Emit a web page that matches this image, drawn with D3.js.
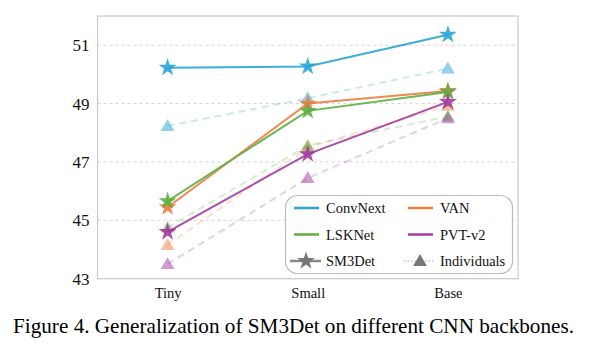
<!DOCTYPE html>
<html><head><meta charset="utf-8">
<script src="https://cdn.jsdelivr.net/npm/d3@7"></script>
<style>body{margin:0;background:#fff}svg{display:block}</style>
</head><body>
<script>
const categories = ["Tiny", "Small", "Base"];
const yTicks = [43, 45, 47, 49, 51];
const seriesNames = ["ConvNext", "VAN", "LSKNet", "PVT-v2"];
const seriesColors = ["#27a4d8", "#ee7c3e", "#5caf3f", "#a23aa0"];
const sm3detConvNext = [50.23, 50.27, 51.36];
const sm3detVAN = [45.45, 49.0, 49.43];
const sm3detLSKNet = [45.66, 48.75, 49.4];
const sm3detPVT = [44.6, 47.27, 49.06];
const indivConvNext = [48.23, 49.18, 50.2];
const indivVAN = [44.15, 47.5, 48.92];
const indivLSKNet = [44.75, 47.56, 48.56];
const indivPVT = [43.5, 46.45, 48.5];
const sm3det = [sm3detConvNext, sm3detVAN, sm3detLSKNet, sm3detPVT];
const indiv = [indivConvNext, indivVAN, indivLSKNet, indivPVT];
const caption = "Figure 4. Generalization of SM3Det on different CNN backbones.";

const W = 601, H = 354;
const m = {left: 97.5, top: 16, right: 518, bottom: 278.7};
const svg = d3.select("body").append("svg").attr("width", W).attr("height", H);
const x = d3.scalePoint().domain(categories).range([m.left, m.right]).padding(0.5);
const y = d3.scaleLinear().domain([43, 52]).range([m.bottom, m.top]);
const serif = "Liberation Serif";

// grid
svg.append("g").selectAll("line").data(yTicks.filter(d => d > 43)).join("line")
  .attr("x1", m.left).attr("x2", m.right).attr("y1", d => y(d)).attr("y2", d => y(d))
  .attr("stroke", "#d4d4d4").attr("stroke-width", 1).attr("stroke-dasharray", "3,3");

// frame
svg.append("rect").attr("x", m.left).attr("y", m.top).attr("width", m.right - m.left).attr("height", m.bottom - m.top)
  .attr("fill", "none").attr("stroke", "#c8c8c8").attr("stroke-width", 1.2);

// axes
const yAxis = svg.append("g").attr("transform", `translate(${m.left},0)`)
  .call(d3.axisLeft(y).tickValues(yTicks).tickSize(0).tickPadding(8));
yAxis.attr("font-family", serif);
yAxis.select(".domain").remove();
yAxis.selectAll("text").style("font-family", serif).attr("font-size", 17).attr("fill", "#111");
const xAxis = svg.append("g").attr("transform", `translate(0,${m.bottom})`)
  .call(d3.axisBottom(x).tickSize(0).tickPadding(9));
xAxis.attr("font-family", serif);
xAxis.select(".domain").remove();
xAxis.selectAll("text").style("font-family", serif).attr("font-size", 14.5).attr("fill", "#111");

const line = d3.line().x((d, i) => x(categories[i])).y(d => y(d));
const star = d3.symbol().type(d3.symbolStar).size(100);
const tri = d3.symbol().type(d3.symbolTriangle).size(82);

// individuals (dashed, faint)
indiv.forEach((vals, k) => {
  svg.append("path").datum(vals).attr("d", line).attr("fill", "none")
    .attr("stroke", seriesColors[k]).attr("stroke-opacity", 0.25).attr("stroke-width", 2)
    .attr("stroke-dasharray", "7,5");
});
indiv.forEach((vals, k) => {
  svg.append("g").selectAll("path").data(vals).join("path")
    .attr("transform", (d, i) => `translate(${x(categories[i])},${y(d) + 1})`)
    .attr("d", tri).attr("fill", seriesColors[k]).attr("fill-opacity", 0.5);
});
// SM3Det (solid)
sm3det.forEach((vals, k) => {
  svg.append("path").datum(vals).attr("d", line).attr("fill", "none")
    .attr("stroke", seriesColors[k]).attr("stroke-width", 2).attr("stroke-opacity", 0.9);
  svg.append("g").selectAll("path").data(vals).join("path")
    .attr("transform", (d, i) => `translate(${x(categories[i])},${y(d)})`)
    .attr("d", star).attr("fill", seriesColors[k]).attr("fill-opacity", 0.9);
});

// legend
const lg = svg.append("g");
lg.append("rect").attr("x", 285.5).attr("y", 195.5).attr("width", 227).attr("height", 78).attr("rx", 12)
  .attr("fill", "#fff").attr("fill-opacity", 0.85).attr("stroke", "#bdbdbd").attr("stroke-width", 1.2);
const items = [
  {name: seriesNames[0], color: seriesColors[0], col: 0, row: 0},
  {name: seriesNames[1], color: seriesColors[1], col: 1, row: 0},
  {name: seriesNames[2], color: seriesColors[2], col: 0, row: 1},
  {name: seriesNames[3], color: seriesColors[3], col: 1, row: 1},
  {name: "SM3Det", color: "#888", col: 0, row: 2, kind: "star"},
  {name: "Individuals", color: "#888", col: 1, row: 2, kind: "tri"}
];
const colX = [294, 408], rowY = [208, 234.5, 261];
items.forEach(it => {
  const x0 = colX[it.col], yy = rowY[it.row];
  const ln = lg.append("line").attr("x1", x0 - (it.kind ? 4 : 0)).attr("x2", x0 + 25 + (it.kind ? 2 : 0))
    .attr("y1", yy).attr("y2", yy).attr("stroke", it.color).attr("stroke-width", it.kind === "tri" ? 1.2 : 2.5);
  if (it.kind === "tri") ln.attr("stroke-dasharray", "1.5,2").attr("stroke", "#aaa");
  if (it.kind === "star") lg.append("path").attr("transform", `translate(${x0 + 12},${yy})`).attr("d", star).attr("fill", "#777");
  if (it.kind === "tri") lg.append("path").attr("transform", `translate(${x0 + 12},${yy + 1})`).attr("d", tri).attr("fill", "#777");
  lg.append("text").attr("x", x0 + 32).attr("y", yy).attr("dy", "0.35em")
    .style("font-family", serif).attr("font-size", 14.5).attr("fill", "#111").text(it.name);
});

// caption
svg.append("text").attr("x", 293.5).attr("y", 333).attr("text-anchor", "middle")
  .style("font-family", serif).attr("font-size", 21.2).attr("fill", "#000").text(caption);
</script>
</body></html>
